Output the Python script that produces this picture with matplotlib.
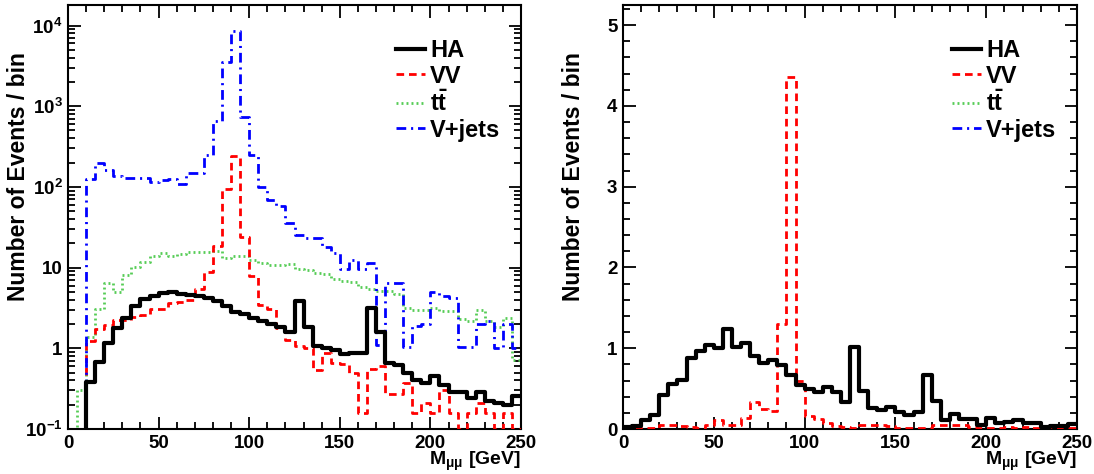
import numpy as np
import matplotlib
matplotlib.use('Agg')
import matplotlib.pyplot as plt
from matplotlib.ticker import MultipleLocator

plt.rcParams['font.family'] = ['Liberation Sans', 'DejaVu Sans']
plt.rcParams['font.weight'] = 'bold'
plt.rcParams['axes.labelweight'] = 'bold'
plt.rcParams['mathtext.fontset'] = 'custom'
plt.rcParams['mathtext.rm'] = 'Liberation Sans:bold'
plt.rcParams['mathtext.bf'] = 'Liberation Sans:bold'
plt.rcParams['mathtext.it'] = 'Liberation Sans:bold'
plt.rcParams['lines.scale_dashes'] = False

# 5 GeV bins, 0-250 GeV
edges = np.arange(0, 251, 5)

# left panel (log scale)
ha_left = [0, 0, 0.38, 0.67, 1.17, 1.77, 2.35, 3.34, 4.05, 4.45,
           4.8, 5.0, 4.7, 4.55, 4.45, 4.15, 3.9, 3.3, 2.85, 2.65,
           2.4, 2.2, 2.0, 1.85, 1.6, 3.85, 1.85, 1.07, 1.0, 0.95,
           0.85, 0.87, 0.88, 3.13, 1.6, 0.66, 0.62, 0.49, 0.40, 0.37,
           0.45, 0.35, 0.29, 0.29, 0.24, 0.29, 0.22, 0.21, 0.20, 0.26]
vv_left = [0, 0, 1.24, 1.72, 1.95, 2.24, 2.24, 2.47, 2.6, 3.1,
           3.1, 3.6, 3.8, 4.0, 5.4, 8.9, 18.6, 94, 244, 23.7,
           7.9, 3.44, 3.1, 1.77, 1.27, 1.07, 1.0, 0.54, 0.88, 0.65,
           0.64, 0.49, 0.16, 0.55, 0.6, 0.27, 0.27, 0.37, 0.16, 0.21,
           0.16, 0.3, 0.16, 0.1, 0.16, 0.21, 0.16, 0.1, 0.16, 0.1]
tt_left = [0.05, 0.3, 1.37, 3.1, 6.4, 5.0, 8.1, 10.3, 11.8, 13.9,
           15.0, 13.9, 14.6, 15.5, 15.8, 15.8, 16.2, 13.2, 14.0, 14.0,
           12.6, 11.3, 10.8, 10.8, 11.0, 9.5, 9.3, 8.5, 8.4, 7.3,
           6.8, 6.6, 5.8, 5.5, 5.2, 5.2, 4.7, 3.2, 3.0, 3.0,
           3.2, 2.9, 2.9, 2.3, 2.2, 3.0, 2.2, 1.85, 2.35, 0.71]
vj_left = [0, 0, 125, 196, 160, 137, 130, 130, 128, 116,
           122, 125, 108, 147, 150, 245, 650, 3530, 8500, 741,
           248, 100, 69, 58, 36, 25, 23, 23, 18, 15,
           9.5, 12.6, 9.5, 11.5, 1.1, 6.4, 6.4, 1.05, 1.9, 2.0,
           5.0, 4.4, 4.15, 1.05, 1.05, 2.0, 2.2, 1.0, 2.0, 1.0]

# right panel (linear scale)
ha_right = [0.02, 0.04, 0.11, 0.17, 0.42, 0.56, 0.61, 0.88, 0.96, 1.04,
            1.0, 1.24, 1.01, 1.06, 0.90, 0.82, 0.85, 0.79, 0.67, 0.545,
            0.50, 0.46, 0.52, 0.46, 0.34, 1.01, 0.47, 0.26, 0.23, 0.27,
            0.21, 0.17, 0.21, 0.67, 0.35, 0.11, 0.18, 0.12, 0.12, 0.05,
            0.14, 0.08, 0.09, 0.11, 0.07, 0.07, 0.03, 0.04, 0.04, 0.06]
vv_right = [0, 0, 0.01, 0.01, 0.05, 0.05, 0.04, 0.02, 0.01, 0.05,
            0.11, 0.05, 0.05, 0.14, 0.33, 0.25, 0.22, 1.3, 4.36, 0.6,
            0.16, 0.12, 0.08, 0.04, 0.02, 0.01, 0.05, 0.05, 0.05, 0.04,
            0.01, 0.01, 0.01, 0.01, 0.05, 0.05, 0.05, 0.05, 0.02, 0.01,
            0.01, 0.01, 0.02, 0.01, 0.02, 0.01, 0.01, 0.02, 0.01, 0.01]

labels = ['HA', 'VV', r'$\mathrm{t\bar{t}}$', 'V+jets']
styles = [dict(color='black', lw=3.0, ls='-', zorder=5),
          dict(color='#ff0000', lw=2.0, ls=(0, (5.5, 3.5)), zorder=3),
          dict(color='#55cc55', lw=2.0, ls=(0, (1.4, 2.2)), zorder=2),
          dict(color='#0000ff', lw=2.0, ls=(0, (7.0, 3.5, 1.5, 3.5)), zorder=4)]


def hist(ax, vals, style, floor=None):
    v = np.array(vals, dtype=float)
    if floor is not None:
        v = np.clip(v, floor, None)
    return ax.step(edges, np.append(v, v[-1]), where='post', **style)[0]


def frame(ax):
    for s in ax.spines.values():
        s.set_linewidth(1.5)
    ax.tick_params(which='both', direction='in', top=True, right=True,
                   width=1.3, labelsize=13.5, pad=4)
    ax.tick_params(which='major', length=9)
    ax.tick_params(which='minor', length=5)
    ax.xaxis.set_major_locator(MultipleLocator(50))
    ax.xaxis.set_minor_locator(MultipleLocator(10))
    ax.set_xlim(0, 250)
    ax.set_xlabel(r'M$_{\mu\mu}$ [GeV]', loc='right', fontsize=14)
    ax.xaxis.set_label_coords(1.0, -0.05)
    ax.set_ylabel('Number of Events / bin', loc='top', fontsize=16.5)
    ax.yaxis.set_label_coords(-0.083, 0.889)


fig = plt.figure(figsize=(10.94, 4.74), dpi=100)
ax1 = fig.add_axes([68 / 1094, 45 / 474, 453 / 1094, 424 / 474])
ax2 = fig.add_axes([623 / 1094, 45 / 474, 454 / 1094, 424 / 474])

handles = []
for vals, st in zip([ha_left, vv_left, tt_left, vj_left], styles):
    handles.append(hist(ax1, vals, st, floor=1e-3))
ax1.set_yscale('log')
ax1.set_ylim(0.1, 17950)
ax1.set_yticks([0.1, 1, 10, 100, 1000, 10000],
               ['10$^{-1}$', '1', '10', '10$^{2}$', '10$^{3}$', '10$^{4}$'])
frame(ax1)

hist(ax2, ha_right, styles[0])
hist(ax2, vv_right, styles[1])
ax2.set_ylim(0, 5.25)
ax2.yaxis.set_major_locator(MultipleLocator(1))
ax2.yaxis.set_minor_locator(MultipleLocator(0.2))
frame(ax2)

for ax in (ax1, ax2):
    ax.legend(handles, labels, loc='upper left', bbox_to_anchor=(0.724, 0.92),
              frameon=False, fontsize=17, handlelength=1.25, handletextpad=0.2,
              labelspacing=0.12, borderaxespad=0, borderpad=0)

fig.savefig('out.png', dpi=100)
